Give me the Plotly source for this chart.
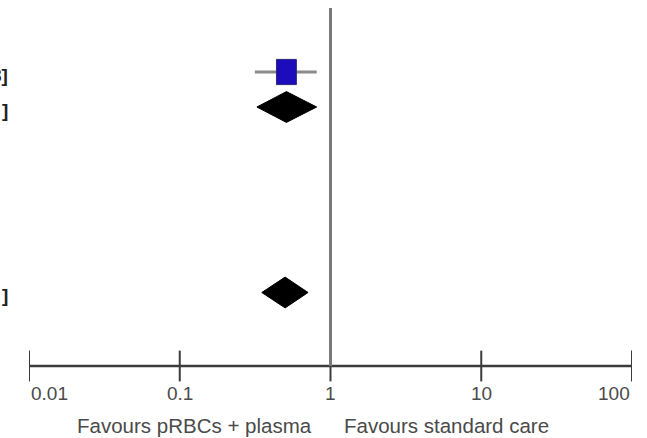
import math
import plotly.graph_objects as go

# ---------------- data ----------------
row_names = ["Study", "Subtotal", "Total"]
row_kind = ["study", "pooled", "pooled"]
row_pos = [1.0, 2.0, 7.3]
or_est = [0.51, 0.51, 0.50]
ci_low = [0.315, 0.325, 0.35]
ci_high = [0.81, 0.81, 0.71]
edge_text = ["8]", "]", "]"]

tick_values = [0.01, 0.1, 1, 10, 100]
tick_labels = ["0.01", "0.1", "1", "10", "100"]
favours_left = "Favours pRBCs + plasma"
favours_right = "Favours standard care"

# ---------------- style ----------------
W, H = 647, 438
FONT = "Liberation Sans, Arial, sans-serif"
TXT = "#4a4a4a"
AXIS_ROW = 9.4
REF_TOP = -0.83
SQ_HW = 0.066   # decades
SQ_HH = 0.36    # rows
DIA_HH = 0.44   # rows

fig = go.Figure()

for name, kind, r, est, lo, hi in zip(row_names, row_kind, row_pos, or_est, ci_low, ci_high):
    if kind == "study":
        fig.add_trace(go.Scatter(x=[lo, hi], y=[r, r], mode="lines",
                                 line=dict(color="#8a8a8a", width=3), name=name))
        xl, xr = est * 10 ** (-SQ_HW), est * 10 ** SQ_HW
        fig.add_trace(go.Scatter(x=[xl, xr, xr, xl, xl],
                                 y=[r - SQ_HH, r - SQ_HH, r + SQ_HH, r + SQ_HH, r - SQ_HH],
                                 mode="lines", fill="toself", fillcolor="#1c0cbc",
                                 line=dict(color="#2a2a7a", width=1), name=name))
    else:
        fig.add_trace(go.Scatter(x=[lo, est, hi, est, lo],
                                 y=[r, r - DIA_HH, r, r + DIA_HH, r],
                                 mode="lines", fill="toself", fillcolor="#000000",
                                 line=dict(color="#000000", width=1), name=name))

# axis line and ticks
fig.add_trace(go.Scatter(x=[tick_values[0], tick_values[-1]], y=[AXIS_ROW, AXIS_ROW],
                         mode="lines", line=dict(color="#3c3c3c", width=2.5)))
fig.add_trace(go.Scatter(x=tick_values, y=[AXIS_ROW] * len(tick_values), mode="markers",
                         marker=dict(symbol="line-ns", size=22,
                                     line=dict(color="#3c3c3c", width=2))))

# reference line at 1
fig.add_trace(go.Scatter(x=[1, 1], y=[REF_TOP, AXIS_ROW], mode="lines",
                         line=dict(color="#7a7a7a", width=3)))

# tick labels
for i, (v, t) in enumerate(zip(tick_values, tick_labels)):
    anchor = "left" if i == 0 else ("right" if i == len(tick_values) - 1 else "center")
    fig.add_annotation(x=math.log10(v), y=AXIS_ROW, xref="x", yref="y", text=t,
                       showarrow=False, xanchor=anchor, yanchor="middle", yshift=-27,
                       font=dict(family=FONT, size=19, color=TXT))

fig.add_annotation(x=math.log10(1), y=AXIS_ROW, xref="x", yref="y", text=favours_left,
                   showarrow=False, xanchor="right", yanchor="middle", xshift=-17, yshift=-59,
                   font=dict(family=FONT, size=20.5, color=TXT))
fig.add_annotation(x=math.log10(1), y=AXIS_ROW, xref="x", yref="y", text=favours_right,
                   showarrow=False, xanchor="left", yanchor="middle", xshift=11, yshift=-59,
                   font=dict(family=FONT, size=20.5, color=TXT))

# cropped text fragments at left edge
for r, t in zip(row_pos, edge_text):
    fig.add_annotation(x=10 / W, y=r, xref="paper", yref="y", text="<b>" + t + "</b>",
                       showarrow=False, xanchor="right", yanchor="middle", yshift=-3,
                       font=dict(family=FONT, size=19, color="#222222"))

fig.update_layout(
    width=W, height=H, margin=dict(l=0, r=0, t=0, b=0),
    showlegend=False, plot_bgcolor="white", paper_bgcolor="white",
    xaxis=dict(type="log", range=[-2, 2], domain=[29 / W, 632 / W], visible=False),
    yaxis=dict(range=[11.457, -1.057], visible=False),
)

fig.write_html("out.html", config={"displayModeBar": False},
               post_script="document.body.style.margin='0';document.body.style.overflow='hidden';")
